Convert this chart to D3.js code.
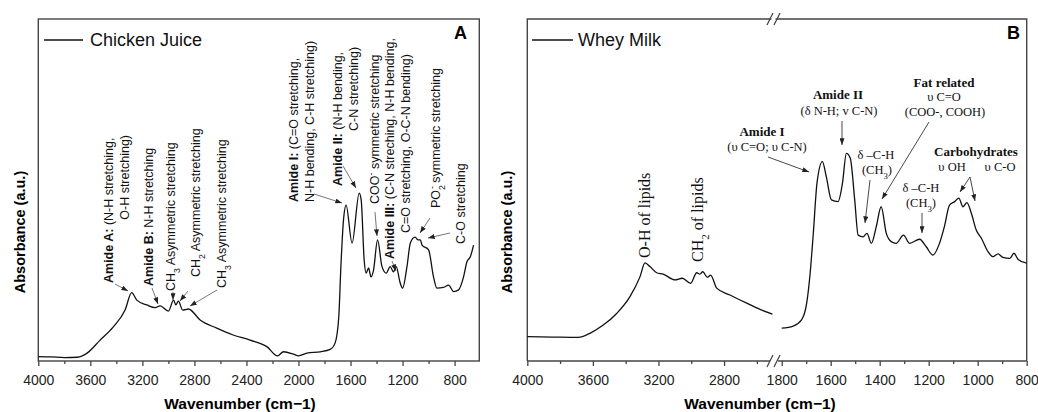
<!DOCTYPE html>
<html>
<head>
<meta charset="utf-8">
<script src="https://cdn.jsdelivr.net/npm/d3@7"></script>
<style>
  body { margin: 0; background: #fff; }
  svg { display: block; }
</style>
</head>
<body>
<div id="chart"></div>
<script>
// ---- values (absorbance in % of plot height) ----
const juiceWavenumber = [4000, 3900, 3800, 3700, 3625, 3525, 3425, 3333, 3282, 3243, 3166, 3102, 3063, 3000, 2960,
  2943, 2923, 2890, 2846, 2756, 2628, 2502, 2372, 2243, 2161, 2115, 2038, 2000, 1935, 1833, 1756, 1718, 1690, 1674,
  1654, 1634, 1588, 1533, 1518, 1495, 1480, 1461, 1443, 1423, 1392, 1358, 1325, 1295, 1270, 1249, 1218, 1200, 1166,
  1140, 1104, 1080, 1063, 1050, 1000, 962, 936, 885, 846, 808, 769, 731, 705, 679, 654];
const juiceAbsorbance = [1.3, 1.2, 1.0, 1.1, 2.3, 6.1, 9.9, 14.9, 20.0, 17.8, 16.4, 15.6, 16.1, 14.6, 17.8,
  16.4, 17.5, 14.9, 15.2, 12.0, 9.6, 7.6, 6.1, 4.2, 1.5, 2.7, 2.0, 1.5, 2.3, 2.7, 3.4, 5.3, 13.0, 27.6,
  41.2, 45.6, 34.5, 49.1, 47.1, 29.5, 25.7, 27.2, 24.6, 26.6, 35.4, 27.6, 25.7, 27.6, 26.1, 27.6, 22.8, 21.3, 27.6,
  34.5, 36.2, 35.4, 35.4, 33.9, 32.5, 24.6, 21.3, 21.5, 22.2, 20.3, 20.8, 24.6, 29.0, 30.5, 33.9];

const wheyWavenumber = [4000, 3850, 3689, 3618, 3537, 3455, 3374, 3313, 3282, 3252, 3211, 3171, 3099, 3055, 3004,
  2967, 2947, 2930, 2902, 2882, 2845, 2764, 2662, 2581, 2505,
  1800, 1753, 1719, 1698, 1684, 1671, 1656, 1634, 1618, 1597, 1570, 1552, 1536, 1520, 1502, 1488, 1468, 1452, 1434,
  1414, 1394, 1373, 1353, 1333, 1303, 1278, 1237, 1210, 1183, 1156, 1136, 1115, 1094, 1077, 1060, 1044, 1026, 1006,
  985, 958, 938, 917, 897, 869, 852, 835, 800];
const wheyAbsorbance = [7.1, 7.0, 6.9, 8.1, 10.5, 13.9, 18.8, 24.6, 28.7, 27.6, 25.8, 25.4, 23.7, 24.2, 22.7,
  25.8, 25.4, 26.1, 24.5, 25.1, 21.3, 19.3, 16.9, 15.1, 13.7,
  9.6, 10.2, 12.0, 16.9, 25.6, 37.3, 52.0, 58.3, 53.9, 47.1, 46.6, 52.0, 60.7, 59.3, 47.1, 36.8, 36.3, 37.3, 34.4,
  39.3, 45.1, 37.3, 34.9, 34.4, 36.8, 34.4, 35.6, 33.4, 31.0, 34.4, 39.3, 45.6, 46.6, 47.6, 45.1, 46.3, 43.2, 38.3,
  35.9, 32.0, 30.5, 31.3, 30.3, 30.0, 31.5, 29.7, 28.6];

const juiceTicks = [4000, 3600, 3200, 2800, 2400, 2000, 1600, 1200, 800];
const juiceMinorTicks = [3800, 3400, 3000, 2600, 2200, 1800, 1400, 1000];
const wheyTicks = [4000, 3600, 3200, 2800, 1800, 1600, 1400, 1200, 1000, 800];
const wheyMinorTicks = [3800, 3400, 3000, 2600, 1700, 1500, 1300, 1100, 900];

const sans = "Arial, 'Liberation Sans', Helvetica, sans-serif";
const serif = "'Times New Roman', 'Liberation Serif', serif";
const width = 1038, height = 412;
const plotTop = 19, plotBottom = 361;

const svg = d3.select("#chart").append("svg")
    .attr("width", width)
    .attr("height", height);

const defs = svg.append("defs");
defs.append("marker")
    .attr("id", "arrow")
    .attr("viewBox", "0 0 8 6")
    .attr("refX", 8).attr("refY", 3)
    .attr("markerWidth", 7).attr("markerHeight", 5)
    .attr("markerUnits", "userSpaceOnUse")
    .attr("orient", "auto")
    .append("path").attr("d", "M0,0L8,3L0,6Z").attr("fill", "#222");

const y = d3.scaleLinear().domain([0, 100]).range([plotBottom, plotTop]);

// panel A scale
const xA = d3.scaleLinear().domain([4000, 610]).range([38.3, 479.3]);
// panel B: broken axis, piecewise scale
const xB = d3.scaleLinear().domain([4000, 2490, 1800, 800]).range([527.3, 774.9, 781.7, 1026.7]);

const juice = juiceWavenumber.map((w, i) => ({ w, a: juiceAbsorbance[i] }));
const whey = wheyWavenumber.map((w, i) => ({ w, a: wheyAbsorbance[i] }));

function drawAxis(g, x, major, minor) {
    const ax = g.append("g").attr("transform", `translate(0,${plotBottom})`)
        .call(d3.axisBottom(x).tickValues(major).tickSize(5).tickPadding(9).tickFormat(d3.format("d")));
    ax.select(".domain").remove();
    ax.selectAll("line").attr("stroke", "#444").attr("stroke-width", 1.3);
    ax.selectAll("text").attr("font-family", sans).attr("font-size", 14).attr("fill", "#222");
    const mi = g.append("g").attr("transform", `translate(0,${plotBottom})`)
        .call(d3.axisBottom(x).tickValues(minor).tickSize(3).tickFormat(""));
    mi.select(".domain").remove();
    mi.selectAll("line").attr("stroke", "#444").attr("stroke-width", 1.3);
}

function vtext(g, x, yy, parts, size, family, anchor) {
    const t = g.append("text")
        .attr("transform", `translate(${x},${yy}) rotate(-90)`)
        .attr("text-anchor", anchor || "start")
        .attr("font-family", family || sans)
        .attr("font-size", size || 12.5)
        .attr("fill", "#111");
    parts.forEach(p => {
        const s = t.append("tspan").text(p.t);
        if (p.b) s.attr("font-weight", "bold");
        if (p.sub) s.attr("baseline-shift", "sub").attr("font-size", "0.7em");
        if (p.sup) s.attr("baseline-shift", "super").attr("font-size", "0.7em");
        if (p.dx) s.attr("dx", p.dx);
    });
}

function htext(g, x, yy, parts, size, family) {
    const t = g.append("text")
        .attr("x", x).attr("y", yy)
        .attr("text-anchor", "middle")
        .attr("font-family", family || serif)
        .attr("font-size", size || 12.5)
        .attr("fill", "#111");
    parts.forEach(p => {
        const s = t.append("tspan").text(p.t);
        if (p.b) s.attr("font-weight", "bold");
        if (p.sub) s.attr("baseline-shift", "sub").attr("font-size", "0.7em");
    });
}

function arrow(g, x1, y1, x2, y2, color) {
    g.append("line")
        .attr("x1", x1).attr("y1", y1).attr("x2", x2).attr("y2", y2)
        .attr("stroke", color || "#666").attr("stroke-width", 0.9)
        .attr("marker-end", "url(#arrow)");
}

const line = (x) => d3.line().x(d => x(d.w)).y(d => y(d.a)).curve(d3.curveMonotoneX);

// ================= Panel A =================
const gA = svg.append("g");
drawAxis(gA, xA, juiceTicks, juiceMinorTicks);
gA.append("rect")
    .attr("x", xA(4000)).attr("y", plotTop)
    .attr("width", xA(610) - xA(4000)).attr("height", plotBottom - plotTop)
    .attr("fill", "none").attr("stroke", "#444").attr("stroke-width", 1.4);

gA.append("path").datum(juice)
    .attr("d", line(xA))
    .attr("fill", "none").attr("stroke", "#111").attr("stroke-width", 1.3);

// legend + letter
gA.append("line").attr("x1", 44).attr("x2", 83).attr("y1", 40).attr("y2", 40)
    .attr("stroke", "#111").attr("stroke-width", 1.3);
gA.append("text").attr("x", 90).attr("y", 46).text("Chicken Juice")
    .attr("font-family", sans).attr("font-size", 18).attr("fill", "#111");
gA.append("text").attr("x", 467).attr("y", 39).attr("text-anchor", "end").text("A")
    .attr("font-family", sans).attr("font-size", 18).attr("font-weight", "bold");

// annotations A
vtext(gA, 112.5, 283, [{ t: "Amide A:", b: 1 }, { t: " (N-H stretching," }]);
vtext(gA, 128.5, 135, [{ t: "O-H stretching)" }], 12.5, sans, "end");
arrow(gA, 115, 284, 128, 291);
vtext(gA, 152.5, 286, [{ t: "Amide B:", b: 1 }, { t: " N-H stretching" }]);
arrow(gA, 152, 288, 158, 304);
vtext(gA, 174.5, 291, [{ t: "CH" }, { t: "3", sub: 1 }, { t: " Asymmetric stretching" }]);
arrow(gA, 173, 292, 173, 300);
vtext(gA, 199.5, 277, [{ t: "CH" }, { t: "2", sub: 1 }, { t: " Asymmetric stretching" }]);
arrow(gA, 188, 291, 180, 301);
vtext(gA, 225.5, 288, [{ t: "CH" }, { t: "3", sub: 1 }, { t: " Asymmetric stretching" }]);
arrow(gA, 217, 290, 190, 306);

vtext(gA, 297.5, 202, [{ t: "Amide I:", b: 1 }, { t: " (C=O stretching," }]);
vtext(gA, 313.5, 202, [{ t: "N-H bending, C-H stretching)" }]);
arrow(gA, 314, 194, 342, 203);
vtext(gA, 341.5, 186, [{ t: "Amide II:", b: 1 }, { t: " (N-H bending," }]);
vtext(gA, 357.5, 131, [{ t: "C-N stretching)" }]);
arrow(gA, 343, 166, 356, 188);
vtext(gA, 378.5, 204, [{ t: "COO" }, { t: "-", sup: 1 }, { t: " symmetric stretching" }]);
arrow(gA, 375, 212, 377, 236);
vtext(gA, 393.5, 259, [{ t: "Amide III:", b: 1 }, { t: " (C-N streching, N-H bending," }]);
vtext(gA, 409.5, 233, [{ t: "C=O stretching, O-C-N bending)" }]);
arrow(gA, 392, 261, 396, 271);
vtext(gA, 439.5, 208, [{ t: "PO" }, { t: "2", sub: 1 }, { t: "-", sup: 1, dx: -4 }, { t: " symmetric stretching" }]);
arrow(gA, 430, 218, 420, 233);
vtext(gA, 464.5, 244, [{ t: "C-O stretching" }]);
arrow(gA, 450, 233, 428, 238);

// axis titles A
gA.append("text").attr("x", 240).attr("y", 409).attr("text-anchor", "middle")
    .attr("font-family", sans).attr("font-size", 15.5).attr("font-weight", "bold")
    .text("Wavenumber (cm\u22121)");
gA.append("text").attr("transform", "translate(25,232) rotate(-90)").attr("text-anchor", "middle")
    .attr("font-family", sans).attr("font-size", 14.5).attr("font-weight", "bold").text("Absorbance (a.u.)");

// ================= Panel B =================
const gB = svg.append("g");
drawAxis(gB, xB, wheyTicks, wheyMinorTicks);
// frame: left, top, right, broken bottom
gB.append("path")
    .attr("d", `M${xB(4000)},${plotBottom}V${plotTop}H${xB(800)}V${plotBottom}`)
    .attr("fill", "none").attr("stroke", "#444").attr("stroke-width", 1.4);
gB.append("line").attr("x1", xB(4000)).attr("x2", 770).attr("y1", plotBottom).attr("y2", plotBottom)
    .attr("stroke", "#444").attr("stroke-width", 1.4);
gB.append("line").attr("x1", 778).attr("x2", xB(800)).attr("y1", plotBottom).attr("y2", plotBottom)
    .attr("stroke", "#444").attr("stroke-width", 1.4);
// break marks
[[767, 367, 773, 355], [774, 367, 780, 355], [767, 25, 773, 13], [774, 25, 780, 13]].forEach(s => {
    gB.append("line").attr("x1", s[0]).attr("y1", s[1]).attr("x2", s[2]).attr("y2", s[3])
        .attr("stroke", "#444").attr("stroke-width", 1.2);
});
gB.append("rect").attr("x", 771.5).attr("y", plotTop - 1.5).attr("width", 4).attr("height", 3).attr("fill", "#fff");

gB.append("path").datum(whey.filter(d => d.w > 2000))
    .attr("d", line(xB))
    .attr("fill", "none").attr("stroke", "#111").attr("stroke-width", 1.3);
gB.append("path").datum(whey.filter(d => d.w <= 2000))
    .attr("d", line(xB))
    .attr("fill", "none").attr("stroke", "#111").attr("stroke-width", 1.3);

gB.append("line").attr("x1", 532).attr("x2", 573).attr("y1", 40).attr("y2", 40)
    .attr("stroke", "#111").attr("stroke-width", 1.3);
gB.append("text").attr("x", 578).attr("y", 46).text("Whey Milk")
    .attr("font-family", sans).attr("font-size", 18).attr("fill", "#111");
gB.append("text").attr("x", 1020).attr("y", 39).attr("text-anchor", "end").text("B")
    .attr("font-family", sans).attr("font-size", 18).attr("font-weight", "bold");

// annotations B
vtext(gB, 650, 258, [{ t: "O-H of lipids" }], 16, serif);
vtext(gB, 703, 262, [{ t: "CH" }, { t: "2", sub: 1 }, { t: " of lipids" }], 16, serif);

htext(gB, 762, 136, [{ t: "Amide I", b: 1 }], 13);
htext(gB, 767, 151, [{ t: "(\u03c5 C=O; \u03c5 C-N)" }]);
arrow(gB, 768, 157, 809, 172, "#333");

htext(gB, 838, 99, [{ t: "Amide II", b: 1 }], 13);
htext(gB, 839, 115, [{ t: "(\u03b4  N-H; v C-N)" }]);
arrow(gB, 842, 121, 842, 145, "#333");

htext(gB, 876, 159, [{ t: "\u03b4 \u2013C-H" }]);
htext(gB, 877, 174, [{ t: "(CH" }, { t: "3", sub: 1 }, { t: ")" }]);
arrow(gB, 870, 180, 865, 223, "#333");

htext(gB, 944, 87, [{ t: "Fat related", b: 1 }], 13);
htext(gB, 944, 101, [{ t: "\u03c5 C=O" }]);
htext(gB, 945, 116, [{ t: "(COO-, COOH)" }]);
arrow(gB, 929, 122, 882, 199, "#333");

htext(gB, 921, 192, [{ t: "\u03b4 \u2013C-H" }]);
htext(gB, 921, 207, [{ t: "(CH" }, { t: "3", sub: 1 }, { t: ")" }]);
arrow(gB, 922, 213, 922, 233, "#333");

htext(gB, 976, 156, [{ t: "Carbohydrates", b: 1 }], 13);
htext(gB, 952, 171, [{ t: "\u03c5  OH" }]);
htext(gB, 1000, 171, [{ t: "\u03c5 C-O" }]);
arrow(gB, 970, 177, 960, 192, "#333");
arrow(gB, 970, 177, 975, 201, "#333");

gB.append("text").attr("x", 760).attr("y", 409).attr("text-anchor", "middle")
    .attr("font-family", sans).attr("font-size", 15.5).attr("font-weight", "bold")
    .text("Wavenumber (cm\u22121)");
gB.append("text").attr("transform", "translate(512,232) rotate(-90)").attr("text-anchor", "middle")
    .attr("font-family", sans).attr("font-size", 14.5).attr("font-weight", "bold").text("Absorbance (a.u.)");
</script>
</body>
</html>
